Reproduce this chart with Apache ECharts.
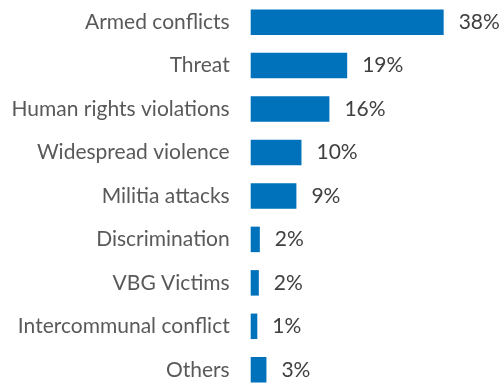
<!DOCTYPE html>
<html>
<head>
<meta charset="utf-8">
<script src="https://cdn.jsdelivr.net/npm/echarts@6/dist/echarts.min.js"></script>
<style>
html,body{margin:0;padding:0;background:#fff;}
#chart{width:500px;height:385px;}
</style>
</head>
<body>
<div id="chart"></div>
<script>
const categories = ["Armed conflicts","Threat","Human rights violations","Widespread violence","Militia attacks","Discrimination","VBG Victims","Intercommunal conflict","Others"];
const values = [38, 19, 15.5, 10, 9, 1.8, 1.6, 1.3, 3.1];

const chart = echarts.init(document.getElementById('chart'), null, {renderer:'canvas'});
chart.setOption({
  animation: false,
  grid: {left: 250.7, width: 195.5, top: 0.4, height: 391.1, containLabel: false, outerBoundsMode: 'none'},
  xAxis: {type:'value', min:0, max:38.5, show:false},
  yAxis: {
    type:'category', inverse:true, data: categories,
    axisLine:{show:false}, axisTick:{show:false}, splitLine:{show:false},
    axisLabel:{margin:21, fontFamily:'Lato', fontSize:21, color:'#595959'}
  },
  series:[{
    type:'bar', data: values, barWidth: 25.5,
    itemStyle:{color:'#0072BC'},
    label:{show:true, position:'right', distance:15, fontFamily:'Lato', fontSize:21, color:'#404040',
      formatter: p => Math.round(p.value) + '%'}
  }]
});
</script>
</body>
</html>
